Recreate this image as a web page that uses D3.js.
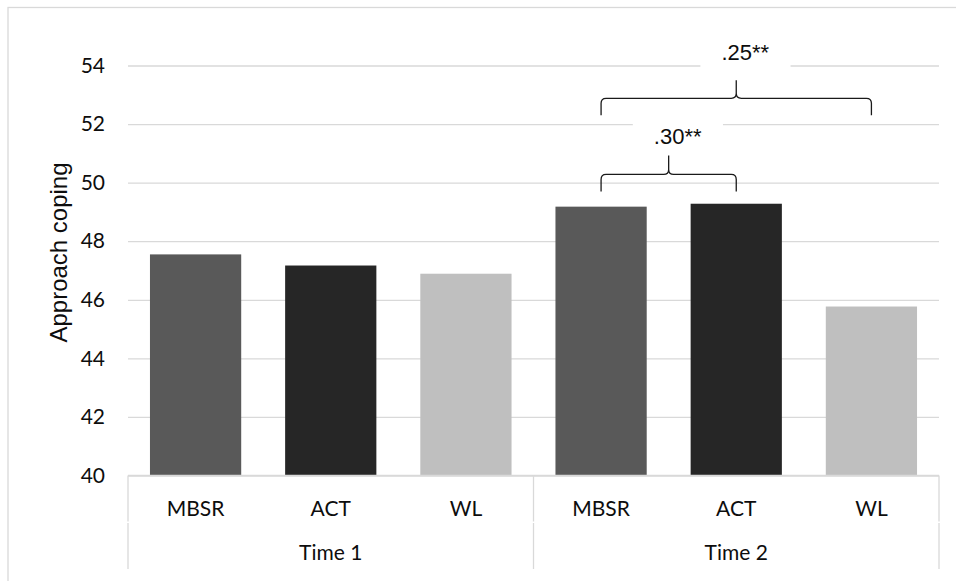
<!DOCTYPE html>
<html>
<head>
<meta charset="utf-8">
<script src="https://cdn.jsdelivr.net/npm/d3@7"></script>
<style>
  body { margin: 0; background: #fff; }
  svg { display: block; }
</style>
</head>
<body>
<svg id="chart" width="956" height="581"></svg>
<script>
// Mean approach coping scores per condition, Time 1 then Time 2
const timePoints = ["Time 1", "Time 2"];
const conditions = ["MBSR", "ACT", "WL"];
const time1Means = [47.55, 47.17, 46.89];
const time2Means = [49.18, 49.28, 45.77];
const yTickValues = [40, 42, 44, 46, 48, 50, 52, 54];
// Effect sizes between Time 2 bars (indices into the flat bar list)
const comparisons = [
  { from: 3, to: 4, label: ".30**" },
  { from: 3, to: 5, label: ".25**" }
];

(function drawChart() {
  const meansByTime = [time1Means, time2Means];
  const rows = timePoints.flatMap((t, ti) =>
    conditions.map((c, ci) => ({ time: t, cond: c, value: meansByTime[ti][ci], key: t + "|" + c }))
  );

  const svg = d3.select("#chart");
  const plotLeft = 128, plotRight = 939, plotTop = 65.5, plotBottom = 475.5;
  const grid = "#d9d9d9";
  const textColor = "#0d0d0d";
  const tickFont = "Lato, 'Open Sans', sans-serif";
  const arial = "'Liberation Sans', Arial, sans-serif";

  // Outer chart border (runs off the right and bottom edges)
  svg.append("rect")
    .attr("x", 8).attr("y", 7.5).attr("width", 1000).attr("height", 1000)
    .attr("fill", "none").attr("stroke", grid).attr("stroke-width", 1.3);

  const x = d3.scaleBand()
    .domain(rows.map(d => d.key))
    .range([plotLeft, plotRight])
    .paddingInner(0.325)
    .paddingOuter(0.1625);

  const y = d3.scaleLinear().domain([40, 54]).range([plotBottom, plotTop]);

  const color = d3.scaleOrdinal().domain(conditions).range(["#595959", "#262626", "#bfbfbf"]);

  // Horizontal gridlines
  const gridG = svg.append("g")
    .attr("transform", `translate(${plotLeft},0)`)
    .call(d3.axisLeft(y).tickValues(yTickValues).tickSize(-(plotRight - plotLeft)).tickFormat(""));
  gridG.select(".domain").remove();
  gridG.selectAll("line").attr("stroke", grid).attr("stroke-width", 1.3);

  // Y tick labels
  const yAxisG = svg.append("g")
    .attr("transform", `translate(${plotLeft},0)`)
    .call(d3.axisLeft(y).tickValues(yTickValues).tickSize(0).tickPadding(23).tickFormat(d3.format("d")));
  yAxisG.select(".domain").remove();
  yAxisG.selectAll("text")
    .attr("fill", textColor)
    .style("font-family", tickFont)
    .style("font-size", "21px");

  // Bars
  svg.append("g").selectAll("rect")
    .data(rows)
    .join("rect")
    .attr("x", d => x(d.key))
    .attr("width", x.bandwidth())
    .attr("y", d => y(d.value))
    .attr("height", d => y(40) - y(d.value))
    .attr("fill", d => color(d.cond));

  // Category axis: baseline and group dividers
  svg.append("line")
    .attr("x1", plotLeft).attr("x2", plotRight).attr("y1", y(40)).attr("y2", y(40))
    .attr("stroke", grid).attr("stroke-width", 1.3);

  const groupEdge = x(rows[3].key) - x.step() * x.paddingInner() / 2;
  const dividers = [plotLeft, groupEdge, plotRight];
  const divG = svg.append("g");
  dividers.forEach(dx => {
    [[y(40), 521.5], [523, 569]].forEach(([y1, y2]) => {
      divG.append("line")
        .attr("x1", dx).attr("x2", dx).attr("y1", y1).attr("y2", y2)
        .attr("stroke", grid).attr("stroke-width", 1.3);
    });
  });

  // Condition labels
  svg.append("g").selectAll("text")
    .data(rows)
    .join("text")
    .attr("x", d => x(d.key) + x.bandwidth() / 2)
    .attr("y", 516)
    .attr("text-anchor", "middle")
    .attr("fill", textColor)
    .style("font-family", tickFont)
    .style("font-size", "21px")
    .text(d => d.cond);

  // Time labels
  const groupCenters = [(plotLeft + groupEdge) / 2, (groupEdge + plotRight) / 2];
  svg.append("g").selectAll("text")
    .data(timePoints)
    .join("text")
    .attr("x", (d, i) => groupCenters[i])
    .attr("y", 560)
    .attr("text-anchor", "middle")
    .attr("fill", textColor)
    .style("font-family", tickFont)
    .style("font-size", "21px")
    .text(d => d);

  // Y axis title
  svg.append("text")
    .attr("transform", "translate(67,252.5) rotate(-90)")
    .attr("text-anchor", "middle")
    .attr("fill", textColor)
    .style("font-family", arial)
    .style("font-size", "24px")
    .text("Approach coping");

  // Significance braces
  const braceLayout = [
    { base: 49.7, arm: 17, tip: 19, labelLift: 11 },
    { base: 52.3, arm: 17, tip: 18, labelLift: 20 }
  ];
  const r = 5;
  const center = i => x(rows[i].key) + x.bandwidth() / 2;

  comparisons.forEach((c, i) => {
    const L = braceLayout[i];
    const x1 = center(c.from), x2 = center(c.to);
    const xm = (x1 + x2) / 2;
    const yb = y(L.base);
    const yh = yb - L.arm;
    const yt = yh - L.tip;
    const labelY = yt - L.labelLift;

    const g = svg.append("g");
    const label = g.append("text")
      .attr("x", xm + 9)
      .attr("y", labelY)
      .attr("text-anchor", "middle")
      .attr("fill", textColor)
      .style("font-family", arial)
      .style("font-size", "22px")
      .text(c.label);
    const bb = label.node().getBBox();
    g.insert("rect", "text")
      .attr("x", bb.x - 21).attr("y", bb.y - 6)
      .attr("width", bb.width + 42).attr("height", bb.height + 12)
      .attr("fill", "#fff");

    const p = d3.path();
    p.moveTo(x1, yb);
    p.lineTo(x1, yh + r);
    p.quadraticCurveTo(x1, yh, x1 + r, yh);
    p.lineTo(xm - r, yh);
    p.quadraticCurveTo(xm, yh, xm, yh - r);
    p.lineTo(xm, yt);
    p.moveTo(xm, yh - r);
    p.quadraticCurveTo(xm, yh, xm + r, yh);
    p.lineTo(x2 - r, yh);
    p.quadraticCurveTo(x2, yh, x2, yh + r);
    p.lineTo(x2, yb);
    g.append("path")
      .attr("d", p.toString())
      .attr("fill", "none")
      .attr("stroke", "#1a1a1a")
      .attr("stroke-width", 1.3);
  });
})();
</script>
</body>
</html>
